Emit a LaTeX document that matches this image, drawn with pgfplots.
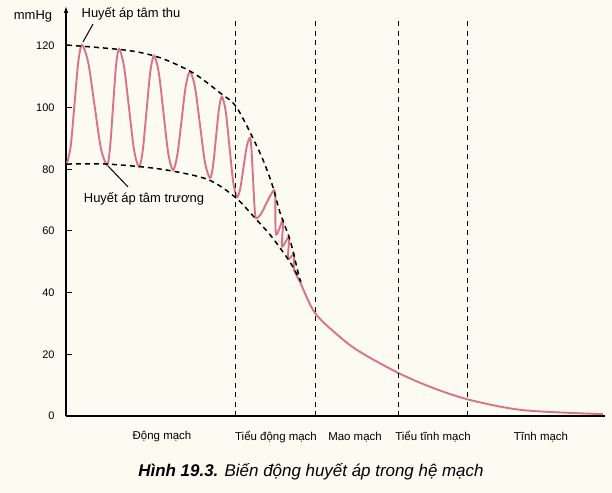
\documentclass[border=0pt]{standalone}
\usepackage{pgfplots}
\pgfplotsset{compat=1.18}
\usetikzlibrary{arrows.meta}
\usepackage{fontspec}
\setmainfont{Liberation Sans}
\definecolor{curve}{RGB}{218,114,136}
\definecolor{bg}{RGB}{251,251,241}
\begin{document}
\begin{tikzpicture}
\fill[bg] (-66bp,-77bp) rectangle (546bp,416bp);
\begin{axis}[
  anchor=origin, at={(0,0)},
  scale only axis, width=539bp, height=410.1bp,
  xmin=0, xmax=539, ymin=0, ymax=133,
  axis x line*=bottom, axis y line=left,
  x axis line style={-, line width=1.6bp},
  y axis line style={-{Latex[length=7bp,width=4.5bp]}, line width=1.2bp},
  xtick=\empty,
  ytick={0,20,40,60,80,100,120},
  tick align=inside, major tick length=6bp,
  tick style={black, line width=1bp},
  /pgf/number format/assume math mode=true,
  yticklabel style={font=\fontsize{11}{13}\selectfont, xshift=-8bp},
  clip=false,
]
% blood pressure curve
\addplot[curve, line width=1.9bp, smooth, tension=0.5] coordinates {
(1,82.0) (4.75,87.6) (8.5,101.15) (12.25,114.7) (16,120.3)
(22.25,114.6) (28.5,100.85) (34.75,87.1) (41,81.4)
(44,86.9) (47,100.2) (50,113.5) (53,119.0)
(58,113.4) (63,99.9) (68,86.4) (73,80.8)
(76.75,86.1) (80.5,98.8) (84.25,111.5) (88,116.8)
(92.75,111.4) (97.5,98.3) (102.25,85.2) (107,79.8)
(111.25,84.5) (115.5,95.7) (119.75,107.0) (124,111.6)
(129,106.6) (134,94.4) (139,82.2) (144,77.2)
(147,81.1) (150,90.35) (153,99.7) (156,103.5)
(159.75,98.7) (163.5,87.25) (167.25,75.8) (171,71.0)
(174.25,73.8) (177.5,80.6) (180.75,87.4) (184,90.2)
(185.5,86.4) (187,77.2) (188.5,68.0) (190,64.2)
(194.75,65.4) (199.5,68.4) (204.25,71.4) (209,72.6)
(210,59) (217,63.5) (216,55) (223,58) (222,51) (228,52.5) (228,47.5)
(234,43.5)
(249,33.4) (274,25.6) (294,20.8) (332,14.0) (367,9.1) (404,5.2) (457,1.9) (537,0.6)
};
% envelopes
\addplot[black, line width=1.5bp, dash pattern=on 5bp off 4bp, smooth] coordinates {
(1,120.3) (61,118.6) (94,116.2) (127,111.3) (154,104.8) (171,99.9) (194,85.3)
(206,75.2) (214,66) (224,57.1) (231,48.0) (234,44.1)
};
\addplot[black, line width=1.5bp, dash pattern=on 5bp off 4bp, smooth] coordinates {
(1,81.7) (41,81.7) (94,80.1) (141,76.8) (169,71.0) (189,64.2) (206,58.0) (224,49.9) (235,43.5)
};
% region boundaries
\addplot[black, line width=0.9bp, dash pattern=on 5bp off 4.5bp] coordinates {(169,0) (169,129.4)};
\addplot[black, line width=0.9bp, dash pattern=on 5bp off 4.5bp] coordinates {(249,0) (249,129.4)};
\addplot[black, line width=0.9bp, dash pattern=on 5bp off 4.5bp] coordinates {(332,0) (332,129.4)};
\addplot[black, line width=0.9bp, dash pattern=on 5bp off 4.5bp] coordinates {(401,0) (401,129.4)};
% annotations
\node[font=\fontsize{13}{15}\selectfont] at (axis cs:-33,129.7) {mmHg};
\node[font=\fontsize{13}{15}\selectfont] at (axis cs:65,130.4) {Huyết áp tâm thu};
\draw[black, line width=1bp] (axis cs:17,121.3) -- (axis cs:27,127.1);
\node[font=\fontsize{13}{15}\selectfont] at (axis cs:78,70.4) {Huyết áp tâm trương};
\draw[black, line width=1bp] (axis cs:42,81.1) -- (axis cs:62,74.3);
\foreach \xx/\lab in {96/Động mạch, 210/Tiểu động mạch, 289/Mao mạch, 367/Tiểu tĩnh mạch, 475/Tĩnh mạch}{
  \edef\tmp{\noexpand\node[font=\noexpand\fontsize{11.5}{13}\noexpand\selectfont] at (axis cs:\xx,-6.8) {\lab};}\tmp
}
\node[font=\fontsize{17}{19}\selectfont] at (axis cs:245,-18.2) {\textbf{\textit{Hình 19.3.}} \textit{Biến động huyết áp trong hệ mạch}};
\end{axis}
\end{tikzpicture}
\end{document}
